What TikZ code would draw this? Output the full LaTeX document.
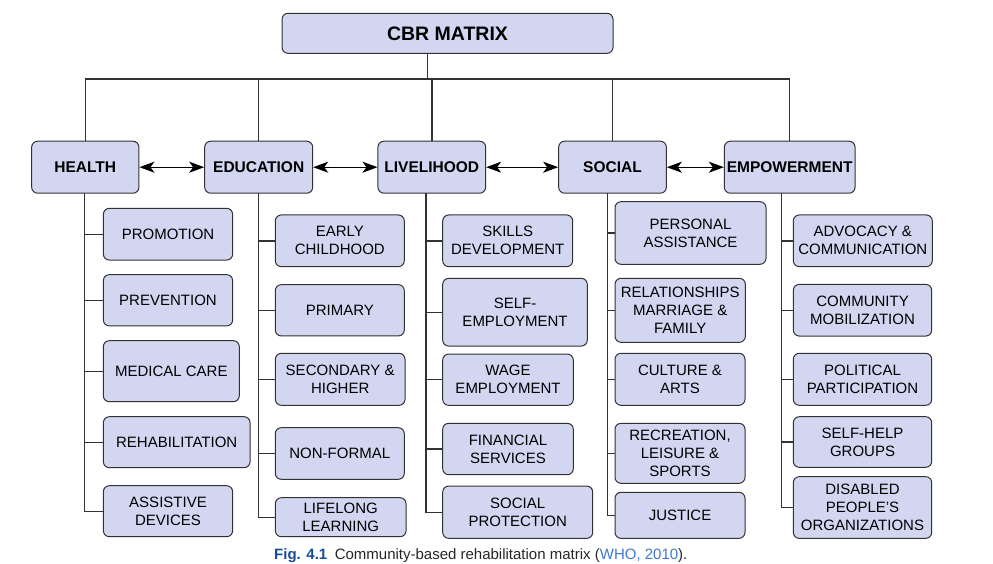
\documentclass[tikz,border=0pt]{standalone}
\usepackage{fontspec}
\setmainfont{Liberation Sans}
\usetikzlibrary{arrows.meta}

\definecolor{boxfill}{RGB}{211,214,240}
\definecolor{boxline}{RGB}{50,50,50}
\definecolor{figblue}{RGB}{25,75,155}
\definecolor{linkblue}{RGB}{60,120,210}

\tikzset{
    basebox/.style={draw=boxline, fill=boxfill, rounded corners=6pt, line width=1pt, inner sep=0pt, align=center},
    topbox/.style={basebox, font=\fontsize{19.5}{22}\selectfont\bfseries},
    catbox/.style={basebox, font=\fontsize{15.5}{18}\selectfont\bfseries, minimum height=52pt},
    subbox/.style={basebox, font=\fontsize{15}{18}\selectfont},
    tree/.style={draw=boxline, line width=1.4pt},
    link/.style={{Stealth[length=15pt,width=11pt,inset=4pt]}-{Stealth[length=15pt,width=11pt,inset=4pt]}, line width=1.2pt}
}

\begin{document}
\begin{tikzpicture}[x=1pt, y=-1pt]
            \useasboundingbox (0, 0) rectangle (993, 563);
            \clip (0, 0) rectangle (993, 563);

            % top of the matrix
            \node[topbox, minimum width=331pt, minimum height=40pt] (cbr) at (447.5, 33.3) {CBR MATRIX};

            \node[catbox, minimum width=107.3pt] (health) at (85.3, 167.2) {HEALTH};
            \node[catbox, minimum width=108pt] (edu) at (258.7, 167.2) {EDUCATION};
            \node[catbox, minimum width=107.7pt] (liv) at (431.8, 167.2) {LIVELIHOOD};
            \node[catbox, minimum width=107.7pt] (soc) at (612.5, 167.2) {SOCIAL};
            \node[catbox, minimum width=130.7pt] (emp) at (789.7, 167.2) {EMPOWERMENT};

            \coordinate (stem) at (427.7, 53.3);
            \coordinate (bus) at (427.7, 79);
            \draw[tree] (stem) -- (bus);
            \draw[tree] (health.north |- bus) -- (emp.north |- bus);
            \foreach \cat in {health, edu, liv, soc, emp}
                \draw[tree] (\cat.north |- bus) -- (\cat.north);

            \draw[link] (health) -- (edu);
            \draw[link] (edu) -- (liv);
            \draw[link] (liv) -- (soc);
            \draw[link] (soc) -- (emp);

            % health
            \node[subbox, minimum width=129.3pt, minimum height=51.7pt] (promo) at (168, 234.2) {PROMOTION};
            \node[subbox, minimum width=129.3pt, minimum height=51.3pt] (prev) at (168, 300.3) {PREVENTION};
            \node[subbox, minimum width=136pt, minimum height=61pt] (med) at (171.3, 371.2) {MEDICAL CARE};
            \node[subbox, minimum width=146.7pt, minimum height=51pt] (rehab) at (176.7, 442.2) {REHABILITATION};
            \node[subbox, minimum width=129.3pt, minimum height=51pt] (assist) at (168, 511.2) {ASSISTIVE\\DEVICES};

            % education
            \node[subbox, minimum width=129pt, minimum height=51.7pt] (early) at (339.8, 240.8) {EARLY\\CHILDHOOD};
            \node[subbox, minimum width=129pt, minimum height=51.3pt] (prim) at (339.8, 310.3) {PRIMARY};
            \node[subbox, minimum width=129.7pt, minimum height=52pt] (sec) at (340.2, 379.3) {SECONDARY \&\\HIGHER};
            \node[subbox, minimum width=129pt, minimum height=51.6pt] (nonf) at (339.8, 453.5) {NON-FORMAL};
            \node[subbox, minimum width=130.7pt, minimum height=39pt] (life) at (340.7, 517.2) {LIFELONG\\LEARNING};

            % livelihood
            \node[subbox, minimum width=130pt, minimum height=51.7pt] (skill) at (507.7, 240.8) {SKILLS\\DEVELOPMENT};
            \node[subbox, minimum width=144.6pt, minimum height=67.7pt] (selfemp) at (515, 312.2) {SELF-\\EMPLOYMENT};
            \node[subbox, minimum width=130.6pt, minimum height=51.3pt] (wage) at (508, 379.7) {WAGE\\EMPLOYMENT};
            \node[subbox, minimum width=130.6pt, minimum height=51.4pt] (fin) at (508, 449) {FINANCIAL\\SERVICES};
            \node[subbox, minimum width=150pt, minimum height=52.3pt] (socprot) at (517.7, 512.2) {SOCIAL\\PROTECTION};

            % social
            \node[subbox, minimum width=151pt, minimum height=62.6pt] (pers) at (690.5, 233) {PERSONAL\\ASSISTANCE};
            \node[subbox, minimum width=130.3pt, minimum height=64pt] (rel) at (680.2, 310.3) {RELATIONSHIPS\\MARRIAGE \&\\FAMILY};
            \node[subbox, minimum width=130pt, minimum height=52pt] (cult) at (680, 379.3) {CULTURE \&\\ARTS};
            \node[subbox, minimum width=130pt, minimum height=60pt] (recr) at (680, 453.3) {RECREATION,\\LEISURE \&\\SPORTS};
            \node[subbox, minimum width=130pt, minimum height=46pt] (just) at (680, 515.3) {JUSTICE};

            % empowerment
            \node[subbox, minimum width=139pt, minimum height=51.7pt] (adv) at (862.8, 240.8) {ADVOCACY \&\\COMMUNICATION};
            \node[subbox, minimum width=138.4pt, minimum height=51.7pt] (commob) at (862.5, 310.2) {COMMUNITY\\MOBILIZATION};
            \node[subbox, minimum width=138.4pt, minimum height=52pt] (pol) at (862.5, 379.3) {POLITICAL\\PARTICIPATION};
            \node[subbox, minimum width=138.4pt, minimum height=50.6pt] (shg) at (862.5, 442) {SELF-HELP\\GROUPS};
            \node[subbox, minimum width=138.4pt, minimum height=61.7pt] (dpo) at (862.5, 507.5) {DISABLED\\PEOPLE'S\\ORGANIZATIONS};

            % spines under each column
            \coordinate (hs) at (84.7, 193.3);
            \coordinate (es) at (258.7, 193.3);
            \coordinate (ls) at (426, 193.3);
            \coordinate (ss) at (607.5, 193.3);
            \coordinate (ms) at (781.7, 193.3);

            \foreach \kid in {promo, prev, med, rehab, assist}
                \draw[tree] (hs) |- (\kid.west);
            \foreach \kid in {early, prim, sec, nonf, life}
                \draw[tree] (es) |- (\kid.west);
            \foreach \kid in {skill, selfemp, wage, fin, socprot}
                \draw[tree] (ls) |- (\kid.west);
            \foreach \kid in {pers, rel, cult, recr, just}
                \draw[tree] (ss) |- (\kid.west);
            \foreach \kid in {adv, commob, pol, shg, dpo}
                \draw[tree] (ms) |- (\kid.west);

            \node[anchor=base west, inner sep=0pt, text=black!85, font=\fontsize{15}{17}\selectfont] (caption) at (274, 559)
                {\textcolor{figblue}{\bfseries Fig. 4.1}\enspace Community-based rehabilitation matrix (\textcolor{linkblue}{WHO, 2010}).};
\end{tikzpicture}
\end{document}
